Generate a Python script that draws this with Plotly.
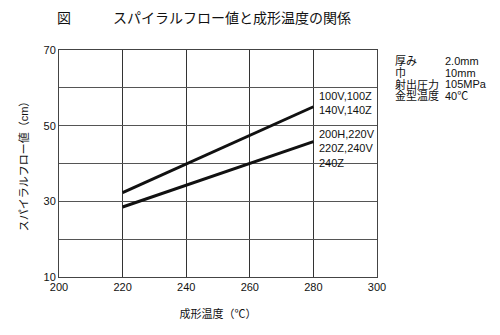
import plotly.graph_objects as go

# Molding temperature (°C) and spiral flow length (cm)
temps = [220, 280]
flow_upper = [32.3, 55.0]   # 100V,100Z / 140V,140Z
flow_lower = [28.5, 45.8]   # 200H,220V / 220Z,240V / 240Z

upper_label = "100V,100Z<br>140V,140Z"
lower_label = "200H,220V<br>220Z,240V<br>240Z"

x_ticks = [200, 220, 240, 260, 280, 300]
y_ticks = [10, 20, 30, 40, 50, 60, 70]
y_tick_text = ["10", "", "30", "", "50", "", "70"]

cond_names = ["厚み", "巾", "射出圧力", "金型温度"]
cond_values = ["2.0mm", "10mm", "105MPa", "40℃"]

JP = "Liberation Sans, Noto Sans CJK JP, sans-serif"

# Plot area in pixels
ML, MR, MT, MB = 59, 123, 50, 58
W, H = 500, 335
plot_w = W - ML - MR
plot_h = H - MT - MB

fig = go.Figure()
for ys in (flow_upper, flow_lower):
    fig.add_trace(go.Scatter(x=temps, y=ys, mode="lines",
                             line=dict(color="#111111", width=3),
                             showlegend=False, hoverinfo="skip"))

fig.add_annotation(x=temps[-1], y=flow_upper[-1], text=upper_label,
                   xref="x", yref="y", xanchor="left", yanchor="middle",
                   xshift=4, yshift=4, showarrow=False, align="left",
                   font=dict(size=11, color="#111111"))
fig.add_annotation(x=temps[-1], y=flow_lower[-1], text=lower_label,
                   xref="x", yref="y", xanchor="left", yanchor="top",
                   xshift=4, yshift=16, showarrow=False, align="left",
                   font=dict(size=11, color="#111111"))

# Molding conditions block (pixel rows converted to paper coordinates)
row_px = [61, 72.5, 84, 95.5]
for n, v, py in zip(cond_names, cond_values, row_px):
    yp = (H - MB - py) / plot_h
    fig.add_annotation(x=(393 - ML) / plot_w, y=yp, xref="paper", yref="paper",
                       text=n, xanchor="left", yanchor="middle", showarrow=False,
                       font=dict(size=11, color="#111111"))
    fig.add_annotation(x=(443 - ML) / plot_w, y=yp, xref="paper", yref="paper",
                       text=v, xanchor="left", yanchor="middle", showarrow=False,
                       font=dict(size=11, color="#111111"))

fig.update_layout(
    width=W, height=H,
    margin=dict(l=ML, r=MR, t=MT, b=MB),
    paper_bgcolor="white", plot_bgcolor="white",
    font=dict(family=JP, size=11, color="#111111"),
    title=dict(text="図　　　スパイラルフロー値と成形温度の関係",
               x=57 / W, xanchor="left", y=1 - 18 / H, yanchor="middle",
               font=dict(size=14, color="#111111")),
    xaxis=dict(range=[200, 300], tickvals=x_ticks, showgrid=True,
               gridcolor="#333333", gridwidth=1, zeroline=False,
               showline=True, linecolor="#444444", linewidth=1, mirror=True,
               ticks="", ticklen=0,
               title=dict(text="成形温度（℃）", standoff=18,
                          font=dict(size=11))),
    yaxis=dict(range=[10, 70], tickvals=y_ticks, ticktext=y_tick_text,
               showgrid=True, gridcolor="#555555", gridwidth=1, zeroline=False,
               showline=True, linecolor="#444444", linewidth=1, mirror=True,
               ticks="", ticklen=0,
               title=dict(text="スパイラルフロー値（cm）", standoff=12,
                          font=dict(size=11))),
)

fig.write_html("out.html")
